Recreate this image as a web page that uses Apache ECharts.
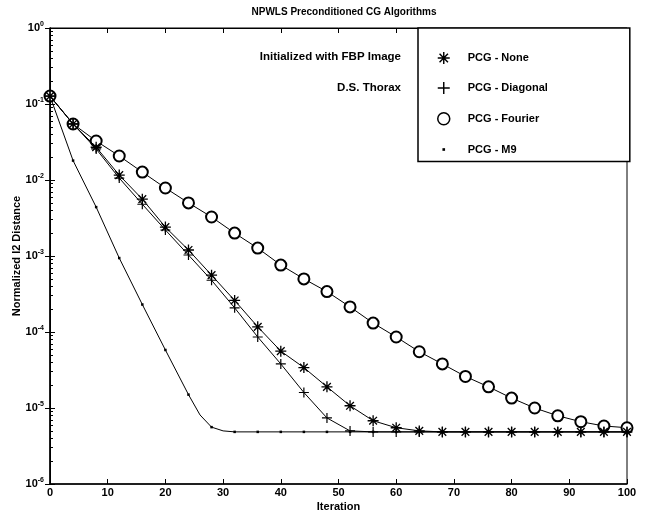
<!DOCTYPE html>
<html><head><meta charset="utf-8">
<script src="https://cdn.jsdelivr.net/npm/echarts/dist/echarts.min.js"></script>
<style>html,body{margin:0;padding:0;background:#fff}#c{width:648px;height:514px}</style>
</head><body><div id="c"></div>
<script>
const titleText = 'NPWLS Preconditioned CG Algorithms';
const xName = 'Iteration';
const yName = 'Normalized l2 Distance';
const noteLines = ['Initialized with FBP Image', 'D.S. Thorax'];
const seriesNames = ['PCG - None', 'PCG - Diagonal', 'PCG - Fourier', 'PCG - M9'];

const iterations = [0,4,8,12,16,20,24,28,32,36,40,44,48,52,56,60,64,68,72,76,80,84,88,92,96,100];
const pcgNone = [0.127,0.0546,0.027,0.0116,0.0056,0.0024,0.0012,5.6e-4,2.6e-4,1.17e-4,5.6e-5,3.4e-5,1.9e-5,1.07e-5,6.8e-6,5.5e-6,5.0e-6,4.85e-6,4.85e-6,4.85e-6,4.85e-6,4.85e-6,4.85e-6,4.85e-6,4.85e-6,4.85e-6];
const pcgDiagonal = [0.127,0.0546,0.0256,0.0106,0.0048,0.0022,0.00103,4.8e-4,2.08e-4,8.6e-5,3.8e-5,1.6e-5,7.4e-6,5.0e-6,4.85e-6,4.85e-6,4.85e-6,4.85e-6,4.85e-6,4.85e-6,4.85e-6,4.85e-6,4.85e-6,4.85e-6,4.85e-6,4.85e-6];
const pcgFourier = [0.127,0.0546,0.0326,0.0207,0.0127,0.00785,0.0050,0.00326,0.0020,0.00127,7.6e-4,5.0e-4,3.4e-4,2.14e-4,1.31e-4,8.6e-5,5.5e-5,3.8e-5,2.6e-5,1.9e-5,1.35e-5,1.0e-5,7.9e-6,6.6e-6,5.8e-6,5.5e-6];
const m9Iterations = [0,4,8,12,16,20,24,26,28,30,32,36,40,44,48,52,56,60,64,68,72,76,80,84,88,92,96,100];
const pcgM9 = [0.127,0.018,0.0044,9.4e-4,2.3e-4,5.8e-5,1.5e-5,8.1e-6,5.6e-6,5.0e-6,4.85e-6,4.85e-6,4.85e-6,4.85e-6,4.85e-6,4.85e-6,4.85e-6,4.85e-6,4.85e-6,4.85e-6,4.85e-6,4.85e-6,4.85e-6,4.85e-6,4.85e-6,4.85e-6,4.85e-6,4.85e-6];

const FONT = '"Liberation Sans", Arial, sans-serif';
const ASTERISK = 'path://M-0.6,-5 L0.6,-5 L0.6,5 L-0.6,5 Z M-5,-0.6 L5,-0.6 L5,0.6 L-5,0.6 Z M-3.08,-3.92 L3.92,3.08 L3.08,3.92 L-3.92,-3.08 Z M3.08,-3.92 L3.92,-3.08 L-3.08,3.92 L-3.92,3.08 Z';
const PLUS = 'path://M-0.6,-5 L0.6,-5 L0.6,5 L-0.6,5 Z M-5,-0.6 L5,-0.6 L5,0.6 L-5,0.6 Z';
const DOT = 'path://M-5,-5 M5,5 M-1.1,-1.1 L1.1,-1.1 L1.1,1.1 L-1.1,1.1 Z';

function pairs(xs, ys) { return xs.map((x, i) => [x, ys[i]]); }
function expLabel(v) {
  const e = Math.round(Math.log10(v));
  return '{b|10}{s|' + (e === 0 ? '0' : '-' + Math.abs(e)) + '}';
}

const chart = echarts.init(document.getElementById('c'));
const lineStyle = { color: '#000', width: 1 };
chart.setOption({
  animation: false,
  backgroundColor: '#fff',
  textStyle: { fontFamily: FONT },
  title: { text: titleText, left: 339, top: 2, textAlign: 'center',
    textStyle: { fontSize: 10, fontWeight: 'bold', color: '#000', fontFamily: FONT } },
  grid: { left: 50, right: 21, top: 28, bottom: 30, outerBoundsMode: 'none', containLabel: false,
    show: true, borderColor: '#000', borderWidth: 1 },
  xAxis: [{
    type: 'value', min: 0, max: 100, interval: 10,
    name: xName, nameLocation: 'middle', nameGap: 17, nameMoveOverlap: false,
    nameTextStyle: { fontSize: 11, fontWeight: 'bold', color: '#000', fontFamily: FONT },
    axisLine: { lineStyle: { color: '#000', width: 1.5 } },
    axisTick: { inside: true, length: 5, lineStyle: { color: '#000' } },
    axisLabel: { fontSize: 11, fontWeight: 'bold', color: '#000', margin: 3, fontFamily: FONT,
      formatter: v => String(v) },
    splitLine: { show: false }
  }, {
    type: 'value', min: 0, max: 100, interval: 10, position: 'top',
    axisLine: { lineStyle: { color: '#000' } },
    axisTick: { inside: true, length: 5, lineStyle: { color: '#000' } },
    axisLabel: { show: false }, splitLine: { show: false }
  }],
  yAxis: [{
    type: 'log', logBase: 10, min: 1e-6, max: 1,
    name: yName, nameLocation: 'middle', nameGap: 28, nameMoveOverlap: false,
    nameTextStyle: { fontSize: 11, fontWeight: 'bold', color: '#000', fontFamily: FONT },
    axisLine: { lineStyle: { color: '#000', width: 1.5 } },
    axisTick: { inside: true, length: 5, lineStyle: { color: '#000' } },
    minorTick: { show: true, splitNumber: 9, length: 3, lineStyle: { color: '#000' } },
    axisLabel: { formatter: expLabel, margin: 6,
      rich: { b: { fontSize: 11, fontWeight: 'bold', color: '#000', fontFamily: FONT },
              s: { fontSize: 7, fontWeight: 'bold', color: '#000', fontFamily: FONT, padding: [0,0,7,0] } } },
    splitLine: { show: false }
  }, {
    type: 'log', logBase: 10, min: 1e-6, max: 1, position: 'right',
    axisLine: { lineStyle: { color: '#000' } },
    axisTick: { inside: true, length: 5, lineStyle: { color: '#000' } },
    axisLabel: { show: false }, splitLine: { show: false }
  }],
  legend: {
    orient: 'vertical', left: 418, top: 28,
    padding: [24, 82, 6, 19], itemGap: 18, itemWidth: 12, itemHeight: 12,
    backgroundColor: '#fff', borderColor: '#000', borderWidth: 1.5, borderRadius: 0,
    textStyle: { fontSize: 11, fontWeight: 'bold', color: '#000', fontFamily: FONT, padding: [0,0,0,13] },
    data: [
      { name: seriesNames[0], icon: ASTERISK, itemStyle: { color: '#000' } },
      { name: seriesNames[1], icon: PLUS, itemStyle: { color: '#000' } },
      { name: seriesNames[2], icon: 'circle', itemStyle: { color: '#fff', borderColor: '#000', borderWidth: 1.5 } },
      { name: seriesNames[3], icon: DOT, itemStyle: { color: '#000' } }
    ]
  },
  graphic: [
    { type: 'text', right: 648 - 401, top: 51, style: { text: noteLines[0], fontSize: 11.5, fontWeight: 'bold', fill: '#000', fontFamily: FONT, textAlign: 'right' } },
    { type: 'text', right: 648 - 401, top: 82, style: { text: noteLines[1], fontSize: 11.5, fontWeight: 'bold', fill: '#000', fontFamily: FONT, textAlign: 'right' } }
  ],
  series: [
    { name: seriesNames[3], type: 'line', data: pairs(m9Iterations, pcgM9), lineStyle,
      symbol: 'rect', symbolSize: (v) => (v[0] % 4 === 0 ? 2.5 : 0), itemStyle: { color: '#000' }, z: 3 },
    { name: seriesNames[2], type: 'line', data: pairs(iterations, pcgFourier), lineStyle,
      symbol: 'emptyCircle', symbolSize: 11, showAllSymbol: true,
      itemStyle: { color: '#000', borderColor: '#000', borderWidth: 1.2 }, z: 4 },
    { name: seriesNames[1], type: 'line', data: pairs(iterations, pcgDiagonal), lineStyle,
      symbol: PLUS, symbolSize: 10, showAllSymbol: true, itemStyle: { color: '#000' }, z: 5 },
    { name: seriesNames[0], type: 'line', data: pairs(iterations, pcgNone), lineStyle,
      symbol: ASTERISK, symbolSize: 11, showAllSymbol: true, itemStyle: { color: '#000' }, z: 6 }
  ]
});
</script>
</body></html>
